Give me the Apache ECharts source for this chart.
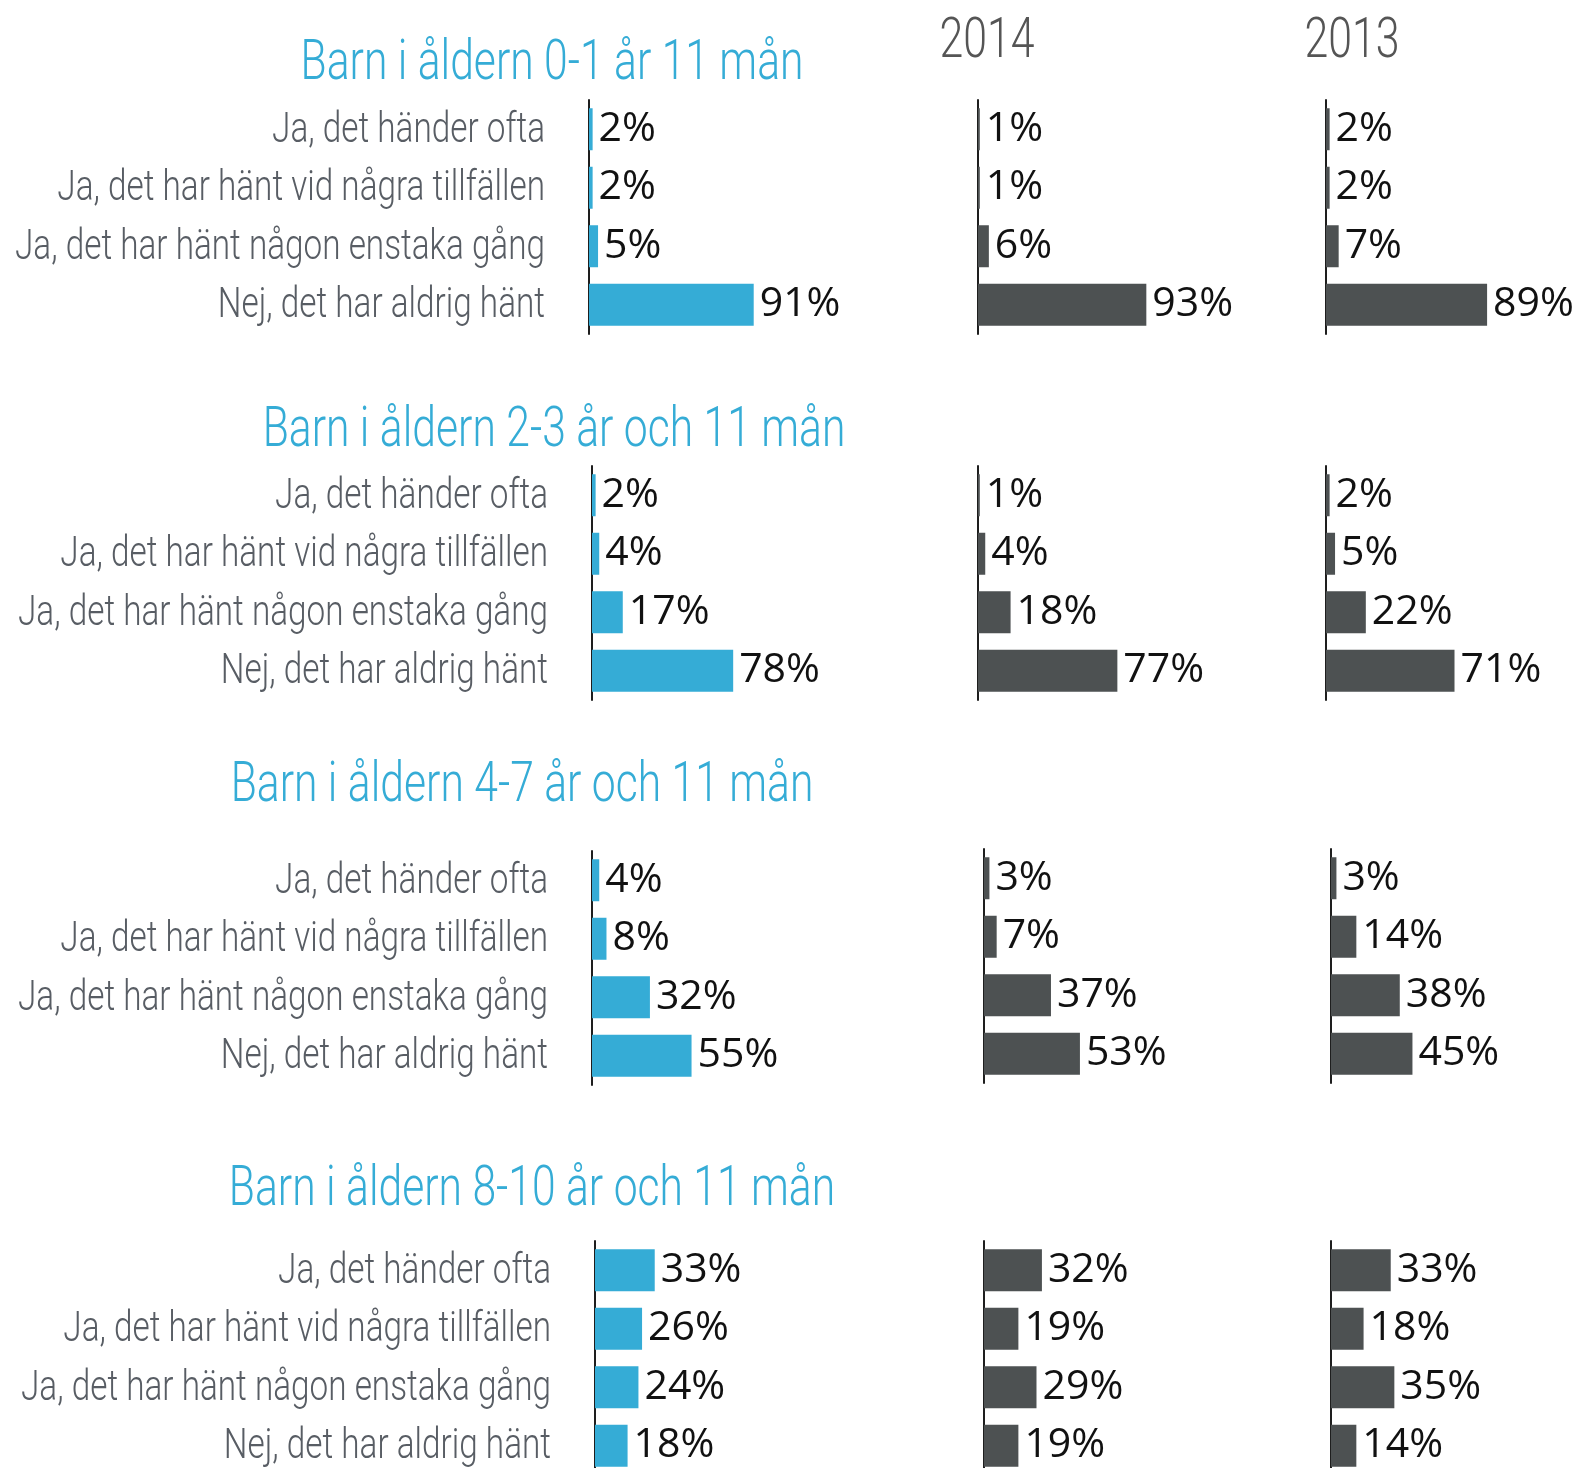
<!DOCTYPE html>
<html>
<head>
<meta charset="utf-8">
<script src="https://cdn.jsdelivr.net/npm/echarts@6/dist/echarts.min.js"></script>
<style>
html,body{margin:0;padding:0;background:#fff;}
#chart{width:1583px;height:1468px;}
</style>
</head>
<body>
<div id="chart"></div>
<script>
// ---- Data ----
const categories = ['Ja, det händer ofta', 'Ja, det har hänt vid några tillfällen', 'Ja, det har hänt någon enstaka gång', 'Nej, det har aldrig hänt'];
const groupTitles = ['Barn i åldern 0-1 år 11 mån', 'Barn i åldern 2-3 år och 11 mån', 'Barn i åldern 4-7 år och 11 mån', 'Barn i åldern 8-10 år och 11 mån'];
const yearLabels = ['2014', '2013'];

const age0_1_now  = [2, 2, 5, 91];
const age0_1_2014 = [1, 1, 6, 93];
const age0_1_2013 = [2, 2, 7, 89];

const age2_3_now  = [2, 4, 17, 78];
const age2_3_2014 = [1, 4, 18, 77];
const age2_3_2013 = [2, 5, 22, 71];

const age4_7_now  = [4, 8, 32, 55];
const age4_7_2014 = [3, 7, 37, 53];
const age4_7_2013 = [3, 14, 38, 45];

const age8_10_now  = [33, 26, 24, 18];
const age8_10_2014 = [32, 19, 29, 19];
const age8_10_2013 = [33, 18, 35, 14];

const groupData = [
  [age0_1_now, age0_1_2014, age0_1_2013],
  [age2_3_now, age2_3_2014, age2_3_2013],
  [age4_7_now, age4_7_2014, age4_7_2013],
  [age8_10_now, age8_10_2014, age8_10_2013]
];

// ---- Layout / style ----
const FAM = 'Roboto, "Noto Sans", sans-serif';
const VALFONT = '"Open Sans", "Noto Sans", sans-serif';
const TITLE_FONT = '300 56px ' + FAM;
const CAT_FONT = '300 42px ' + FAM;
const YEAR_FONT = '300 56px ' + FAM;
const BLUE = '#35acd6';
const GRAY = '#4d5152';
const colLeft = [[589, 978, 1326], [592, 978, 1326], [592, 984, 1331], [595, 984, 1331]];
const gridTop = [[100, 100, 100], [466, 466, 466], [851, 849, 849], [1241, 1241, 1241]];
const gridH = 234;
const gridW = 181;
const titleCenter = [[552, 64.5], [554, 431.5], [522, 786.5], [532, 1190.5]];
const yearCenter = [[987, 43], [1352, 43]];
const labelGap = 44;

const grids = [], xAxes = [], yAxes = [], series = [];
let idx = 0;
for (let g = 0; g < 4; g++) {
  for (let c = 0; c < 3; c++) {
    grids.push({left: colLeft[g][c], top: gridTop[g][c], width: gridW, height: gridH, outerBoundsMode: 'none', containLabel: false});
    xAxes.push({gridIndex: idx, type: 'value', min: 0, max: 100, show: false});
    yAxes.push({
      gridIndex: idx, type: 'category', inverse: true, data: categories,
      axisLine: {show: true, lineStyle: {color: '#1e1e1e', width: 2}},
      axisTick: {show: false},
      splitLine: {show: false},
      axisLabel: {show: false}
    });
    series.push({
      type: 'bar', xAxisIndex: idx, yAxisIndex: idx,
      data: groupData[g][c], barWidth: 42,
      itemStyle: {color: c === 0 ? BLUE : GRAY},
      label: {show: true, position: 'right', distance: 6, formatter: '{c}%', fontSize: 41, color: '#111', fontFamily: VALFONT},
      silent: true, animation: false
    });
    idx++;
  }
}

const chart = echarts.init(document.getElementById('chart'), null, {renderer: 'canvas'});
chart.setOption({
  backgroundColor: '#fff',
  animation: false,
  grid: grids, xAxis: xAxes, yAxis: yAxes, series: series
});

// condensed text: measure and squeeze horizontally
const mctx = document.createElement('canvas').getContext('2d');
function textW(t, f) { mctx.font = f; return mctx.measureText(t).width; }
const titleScale = 503 / textW(groupTitles[0], TITLE_FONT);
const catScale = 530 / textW(categories[2], CAT_FONT);
const yearScale = 95 / textW('2014', YEAR_FONT);

const graphics = [];
groupTitles.forEach((t, i) => {
  graphics.push({type: 'text', x: titleCenter[i][0], y: titleCenter[i][1], scaleX: titleScale, silent: true,
    style: {text: t, fill: BLUE, font: TITLE_FONT, textAlign: 'center', textVerticalAlign: 'middle'}});
});
yearLabels.forEach((t, i) => {
  graphics.push({type: 'text', x: yearCenter[i][0], y: yearCenter[i][1], scaleX: yearScale, silent: true,
    style: {text: t, fill: '#555', font: YEAR_FONT, textAlign: 'center', textVerticalAlign: 'middle'}});
});
for (let g = 0; g < 4; g++) {
  const gi = g * 3;
  categories.forEach((cat) => {
    const p = chart.convertToPixel({gridIndex: gi}, [0, cat]);
    graphics.push({type: 'text', x: p[0] - labelGap, y: p[1] + 2, scaleX: catScale, silent: true,
      style: {text: cat, fill: '#585d64', font: CAT_FONT, textAlign: 'right', textVerticalAlign: 'middle'}});
  });
}
chart.setOption({graphic: graphics});
</script>
</body>
</html>
